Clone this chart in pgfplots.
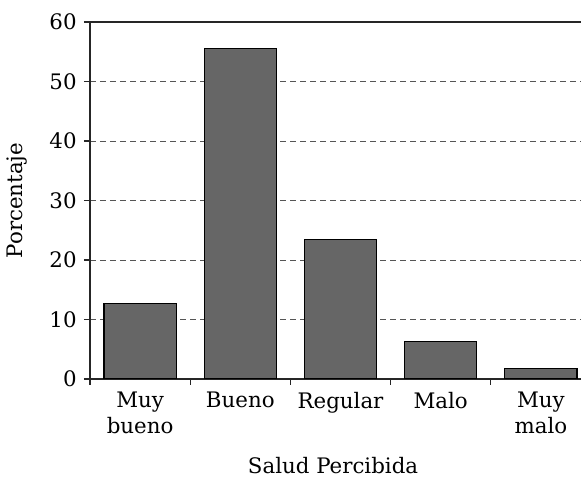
\documentclass[border=0pt]{standalone}
\usepackage{pgfplots}
\pgfplotsset{compat=1.18}
\usepackage{fontspec}
\setmainfont{DejaVu Serif}
\usetikzlibrary{calc}
\definecolor{barfill}{HTML}{666666}
\definecolor{gridc}{HTML}{555555}
\newcommand{\cf}{\fontsize{16}{19}\selectfont}
\begin{document}
\begin{tikzpicture}
\begin{axis}[
  name=ax,
  scale only axis,
  width=368.25pt, height=267.75pt,
  xmin=-0.5, xmax=4.4, ymin=0, ymax=60,
  axis x line*=bottom, axis y line*=left,
  axis line style={line width=1.1pt, black!85},
  tick label style={font=\cf},
  label style={font=\cf},
  /pgf/number format/assume math mode=true,
  xtick={0,1,2,3,4},
  xticklabels={{Muy\\bueno},Bueno,Regular,Malo,{Muy\\malo}},
  xticklabel style={align=center, yshift=-2pt},
  major x tick style={draw=none},
  minor xtick={-0.5,0.5,1.5,2.5,3.5},
  minor tick length=4.5pt,
  major tick length=4.5pt,
  tick align=outside,
  tick style={line width=1pt, black!85},
  ytick={0,10,...,60},
  yticklabel style={xshift=-2pt},
  ymajorgrids,
  grid style={gridc, line width=0.7pt, dash pattern=on 4.5pt off 3pt},
  xlabel={Salud Percibida},
  xlabel style={at={(axis description cs:0.495,-0.266)}, anchor=base},
  ylabel={Porcentaje},
  ylabel style={at={(axis description cs:-0.118,0.5)}, anchor=south, rotate=0},
  after end axis/.code={\draw[line width=1.1pt, black!85] (rel axis cs:0,1) -- (rel axis cs:1,1);},
]
\addplot[ybar, bar width=0.72, fill=barfill, draw=black, line width=0.9pt]
  coordinates {(0,12.7) (1,55.6) (2,23.5) (3,6.3) (4,1.7)};
\end{axis}
\pgfresetboundingbox
\path[use as bounding box] ($(ax.south west)+(-67.5pt,-75pt)$) rectangle ($(ax.north east)+(0,16.5pt)$);
\end{tikzpicture}
\end{document}
